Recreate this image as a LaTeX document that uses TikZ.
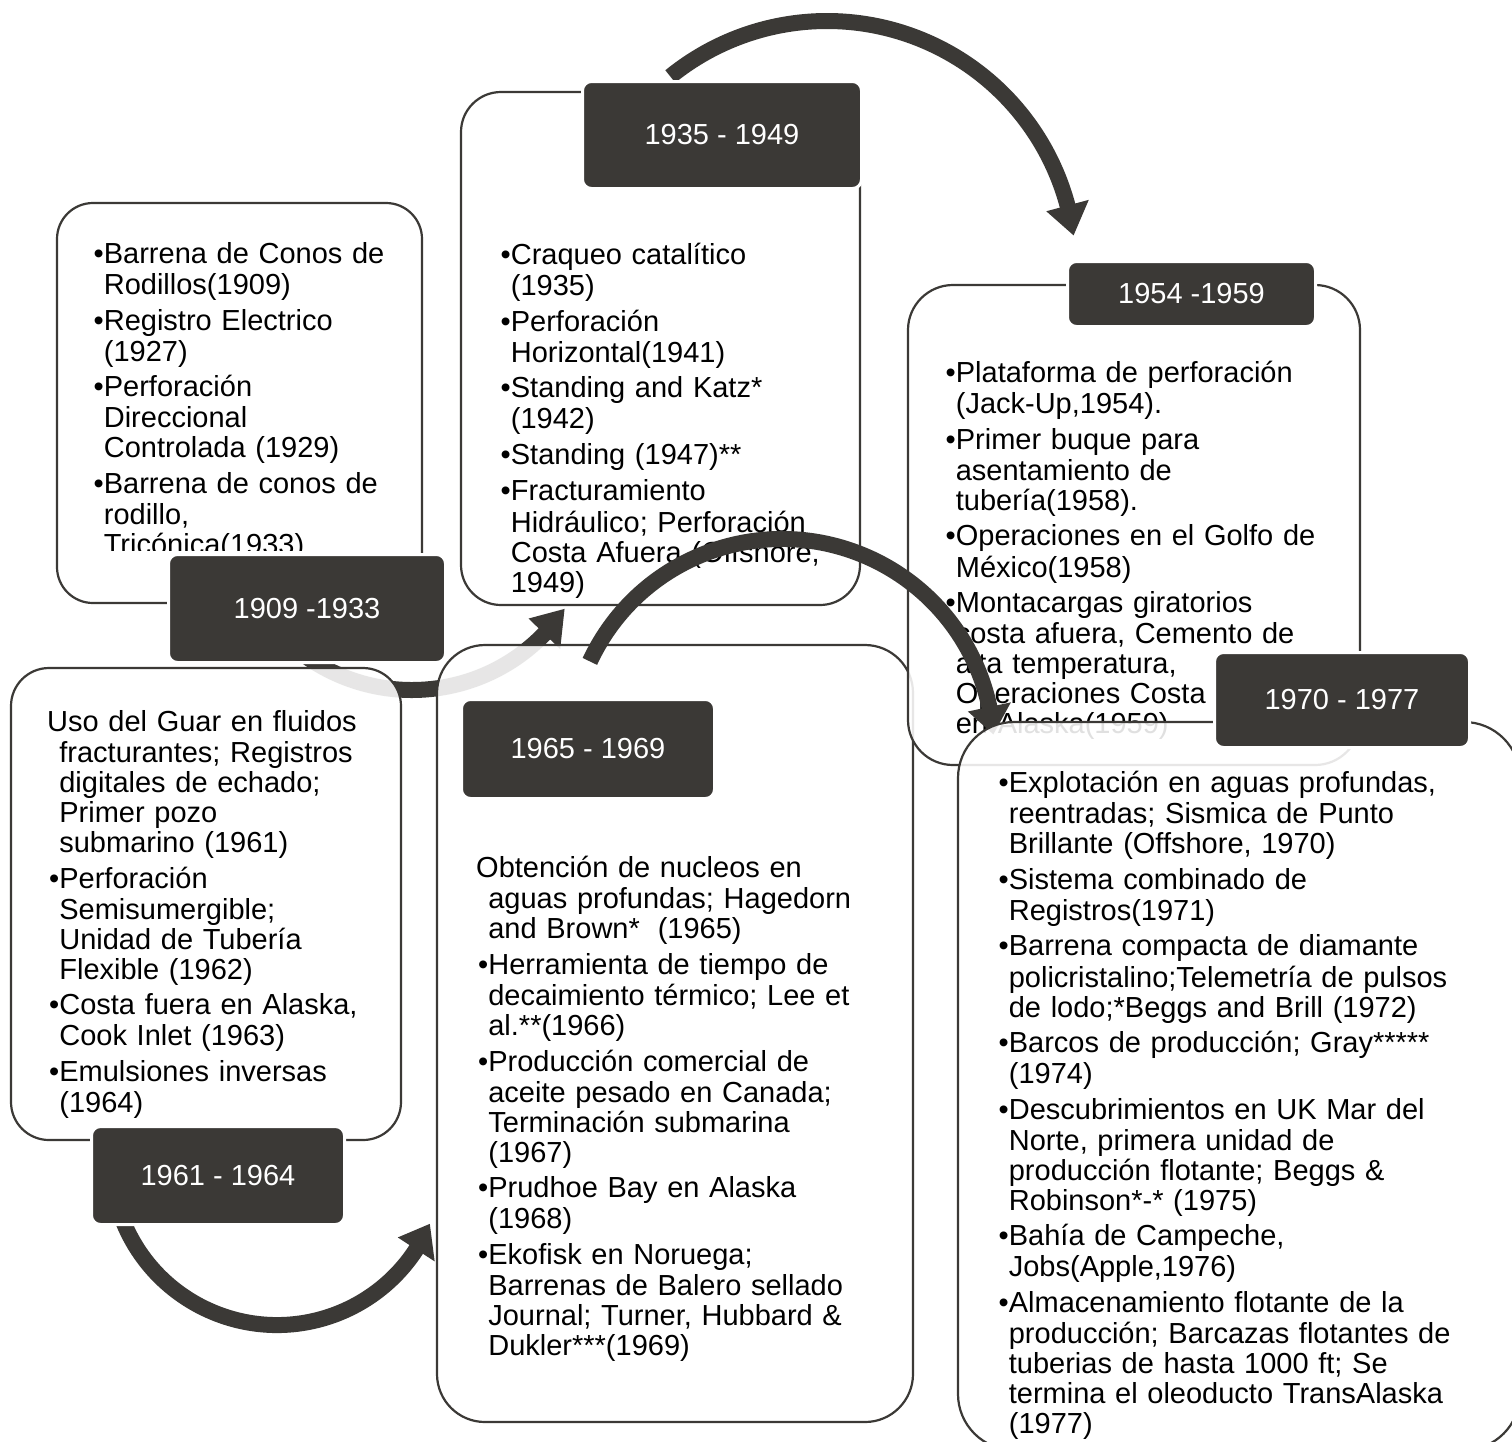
\documentclass[tikz,border=0pt]{standalone}
\usepackage{fontspec}
\setmainfont{Liberation Sans}
\usetikzlibrary{calc}
\definecolor{dk}{RGB}{59,57,54}
\newcommand{\bodyf}{\fontsize{29}{30}\selectfont}
\newcommand{\bi}{\par\hangindent=10.15pt\hangafter=1\noindent\strut\makebox[10.15pt][l]{•}}
\newcommand{\fp}{\par\hangindent=10.15pt\hangafter=1\noindent\strut}
\newcommand{\nl}{\newline}
\newcommand{\ps}{\setlength{\parskip}{5.5pt}}
\tikzset{
 box/.style={draw=dk, line width=2.2pt, fill=white, fill opacity=0.88, anchor=north west, inner sep=0pt, outer sep=0pt},
 lab/.style={fill=dk, draw=white, line width=3pt, rounded corners=9pt, text=white, anchor=north west, inner sep=0pt, font=\bodyf},
 txt/.style={anchor=north west, inner sep=0pt, text width=640pt, font=\bodyf},
 arr/.style={draw=dk, line width=16pt},
 head/.style={fill=dk},
}
\begin{document}
\begin{tikzpicture}[x=1pt,y=-1pt]
\useasboundingbox (0,0) rectangle (1512,1441);
\fill[white] (0,0) rectangle (1512,1441);

% 1909 - 1933
\node[box, minimum width=365pt, minimum height=400pt, rounded corners=36pt] (b1909) at (57,203) {};
\begin{scope}
\clip (0,0) rectangle (1512,550);
\node[txt] (t1909) at (93.5,228) {\ps
\bi Barrena de Conos de\nl Rodillos(1909)
\bi Registro Electrico\nl (1927)
\bi Perforación\nl Direccional\nl Controlada (1929)
\bi Barrena de conos de\nl rodillo,\nl Tricónica(1933)\par};
\end{scope}

% arrow 1909 -> 1935
\coordinate (cA) at (412,506);
\draw[arr] ($(cA)+(125:184)$) arc[start angle=125, end angle=43, radius=184];
\fill[head] ($(cA)+(44:162)$) -- ($(cA)+(44:206)$) -- ($(cA)+(34:184)$) -- cycle;

\node[lab, minimum width=277pt, minimum height=108pt] (l1909) at (167,553) {1909 -1933};

% 1935 - 1949
\node[box, minimum width=399pt, minimum height=513pt, rounded corners=40pt] (b1935) at (461,92) {};
\node[txt] (t1935) at (500.5,229) {\ps
\bi Craqueo catalítico\nl (1935)
\bi Perforación\nl Horizontal(1941)
\bi Standing and Katz*\nl (1942)
\bi Standing (1947)**
\bi Fracturamiento\nl Hidráulico; Perforación\nl Costa Afuera (Offshore,\nl 1949)\par};

% arrow 1935 -> 1954
\coordinate (cB) at (827,270);
\draw[arr] ($(cB)+(-129:249)$) arc[start angle=-129, end angle=-14, radius=249];
\fill[head] ($(cB)+(-15:227)$) -- ($(cB)+(-15:271)$) -- ($(cB)+(-8:249)$) -- cycle;

\node[lab, minimum width=279pt, minimum height=107pt] (l1935) at (581,80) {1935 - 1949};

% 1961 - 1964
\node[box, minimum width=390pt, minimum height=472pt, rounded corners=38pt] (b1961) at (11,668) {};
\node[txt] (t1961) at (49,696) {\ps
\fp\hspace*{-2pt}Uso del Guar en fluidos\nl fracturantes; Registros\nl digitales de echado;\nl Primer pozo\nl submarino (1961)
\bi Perforación\nl Semisumergible;\nl Unidad de Tubería\nl Flexible (1962)
\bi Costa fuera en Alaska,\nl Cook Inlet (1963)
\bi Emulsiones inversas\nl (1964)\par};

% arrow 1961 -> 1965
\coordinate (cD) at (277,1159);
\draw[arr] ($(cD)+(160:166)$) arc[start angle=160, end angle=32, radius=166];
\fill[head] ($(cD)+(33:144)$) -- ($(cD)+(33:188)$) -- ($(cD)+(23:166)$) -- cycle;

\node[lab, minimum width=253pt, minimum height=98pt] (l1961) at (90,1125) {1961 - 1964};

% 1965 - 1969
\node[box, minimum width=476pt, minimum height=777pt, rounded corners=48pt] (b1965) at (437,645) {};
\node[txt] (t1965) at (478,842) {\ps
\fp\hspace*{-2pt}Obtención de nucleos en\nl aguas profundas; Hagedorn\nl and Brown*\hspace{18pt}(1965)
\bi Herramienta de tiempo de\nl decaimiento térmico; Lee et\nl al.**(1966)
\bi Producción comercial de\nl aceite pesado en Canada;\nl Terminación submarina\nl (1967)
\bi Prudhoe Bay en Alaska\nl (1968)
\bi Ekofisk en Noruega;\nl Barrenas de Balero sellado\nl Journal; Turner, Hubbard \&\nl Dukler***(1969)\par};
\node[lab, minimum width=253pt, minimum height=99pt] (l1965) at (460,698) {1965 - 1969};

% 1954 - 1959
\node[box, minimum width=452pt, minimum height=480pt, rounded corners=45pt] (b1954) at (908,285) {};
\node[txt] (t1954) at (945.5,347) {\ps
\bi Plataforma de perforación\nl (Jack-Up,1954).
\bi Primer buque para\nl asentamiento de\nl tubería(1958).
\bi Operaciones en el Golfo de\nl México(1958)
\bi Montacargas giratorios\nl costa afuera, Cemento de\nl alta temperatura,\nl Operaciones Costa\nl en Alaska(1959)\par};
\node[lab, minimum width=248pt, minimum height=65pt] (l1954) at (1066,260) {1954 -1959};

% arrow 1965 -> 1970
\coordinate (cC) at (782,751);
\draw[arr] ($(cC)+(-155:212)$) arc[start angle=-155, end angle=-11, radius=212];
\fill[head] ($(cC)+(-12:190)$) -- ($(cC)+(-12:234)$) -- ($(cC)+(-4.5:212)$) -- cycle;

% 1970 - 1977
\node[box, minimum width=562pt, minimum height=728pt, rounded corners=56pt] (b1970) at (958,722) {};
\node[txt] (t1970) at (998.5,757) {\ps
\bi Explotación en aguas profundas,\nl reentradas; Sismica de Punto\nl Brillante (Offshore, 1970)
\bi Sistema combinado de\nl Registros(1971)
\bi Barrena compacta de diamante\nl policristalino;Telemetría de pulsos\nl de lodo;*Beggs and Brill (1972)
\bi Barcos de producción; Gray*****\nl (1974)
\bi Descubrimientos en UK Mar del\nl Norte, primera unidad de\nl producción flotante; Beggs \&\nl Robinson*-* (1975)
\bi Bahía de Campeche,\nl Jobs(Apple,1976)
\bi Almacenamiento flotante de la\nl producción; Barcazas flotantes de\nl tuberias de hasta 1000 ft; Se\nl termina el oleoducto TransAlaska\nl (1977)\par};
\node[lab, minimum width=255pt, minimum height=95pt] (l1970) at (1213,651) {1970 - 1977};
\end{tikzpicture}
\end{document}
